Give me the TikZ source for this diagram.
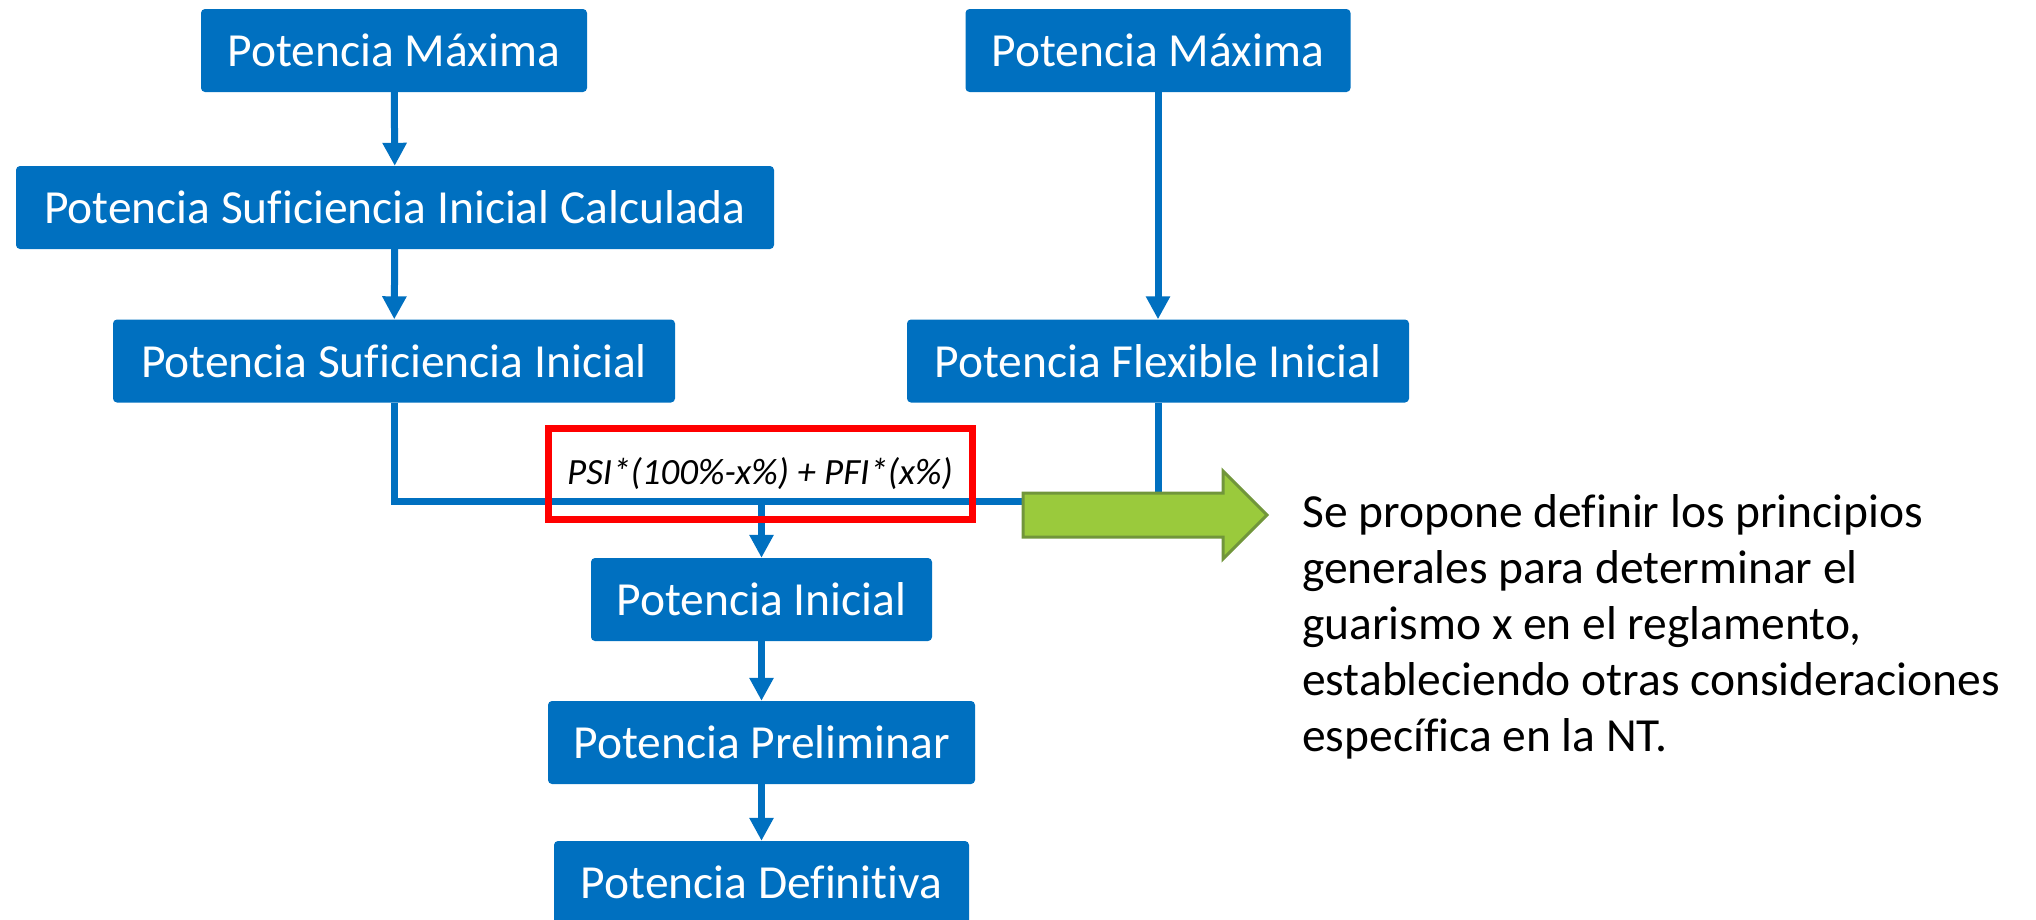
\documentclass[tikz,border=0pt]{standalone}
\usepackage{fontspec}
\setmainfont{Carlito}[Ligatures=NoCommon]
\usetikzlibrary{arrows.meta}
\definecolor{bblue}{HTML}{0070C0}
\definecolor{gfill}{HTML}{9ACA3C}
\definecolor{gline}{HTML}{71963A}
\definecolor{rred}{HTML}{FF0000}
\begin{document}
\begin{tikzpicture}[x=1pt,y=-1pt,
  pbox/.style={fill=bblue, rounded corners=4pt, text=white,
    font=\fontsize{47.5}{57}\selectfont, minimum height=83pt,
    inner sep=0pt, anchor=center},
  conn/.style={draw=bblue, line width=7pt, line join=miter},
  arr/.style={conn, -{Triangle[width=23pt,length=23pt]}},
  redbox/.style={draw=rred, line width=7pt, minimum width=424pt,
    minimum height=91pt, inner sep=0pt,
    font=\fontsize{37}{44}\selectfont\itshape},
  greenarrow/.style={fill=gfill, draw=gline, line width=3pt},
  note/.style={anchor=base west, align=left, inner sep=0pt,
    font=\fontsize{47.5}{56}\selectfont}
]
\useasboundingbox (0,0) rectangle (2036,919);
\clip (0,0) rectangle (2036,919);

\node[pbox, minimum width=386pt] (pm1) at (394,50.5) {Potencia Máxima};
\node[pbox, minimum width=758pt] (psic) at (395,207.5) {Potencia Suficiencia Inicial Calculada};
\node[pbox, minimum width=562pt] (psi) at (394,361) {Potencia Suficiencia Inicial};
\node[pbox, minimum width=385pt] (pm2) at (1158,50.5) {Potencia Máxima};
\node[pbox, minimum width=502pt] (pfi) at (1158,361) {Potencia Flexible Inicial};
\node[pbox, minimum width=341pt] (pi) at (761.5,599.5) {Potencia Inicial};
\node[pbox, minimum width=427pt] (pp) at (761.5,742.5) {Potencia Preliminar};
\node[pbox, minimum width=415pt] (pd) at (761.5,882.5) {Potencia Definitiva};

\coordinate (j) at (761.5,501);

\draw[arr] (pm1) -- (psic);
\draw[arr] (psic) -- (psi);
\draw[arr] (pm2) -- (pfi);
\draw[conn] (psi.south) |- (j);
\draw[conn] (pfi.south) |- (j);
\draw[arr] (j) -- (pi.north);
\draw[arr] (pi) -- (pp);
\draw[arr] (pp) -- (pd);

\node[redbox] (formula) at (760,473.5) {PSI*(100\%-x\%) + PFI*(x\%)};

\path[greenarrow] (1023,493) coordinate (ga) -- (1223,493) -- (1223,471)
  -- (1267,515) coordinate (gtip) -- (1223,559) -- (1223,537) -- (1023,537) -- cycle;

\node[note] (txt) at (1302,751) {Se propone definir los principios\\
generales para determinar el\\
guarismo x en el reglamento,\\
estableciendo otras consideraciones\\
específica en la NT.};
\end{tikzpicture}
\end{document}
